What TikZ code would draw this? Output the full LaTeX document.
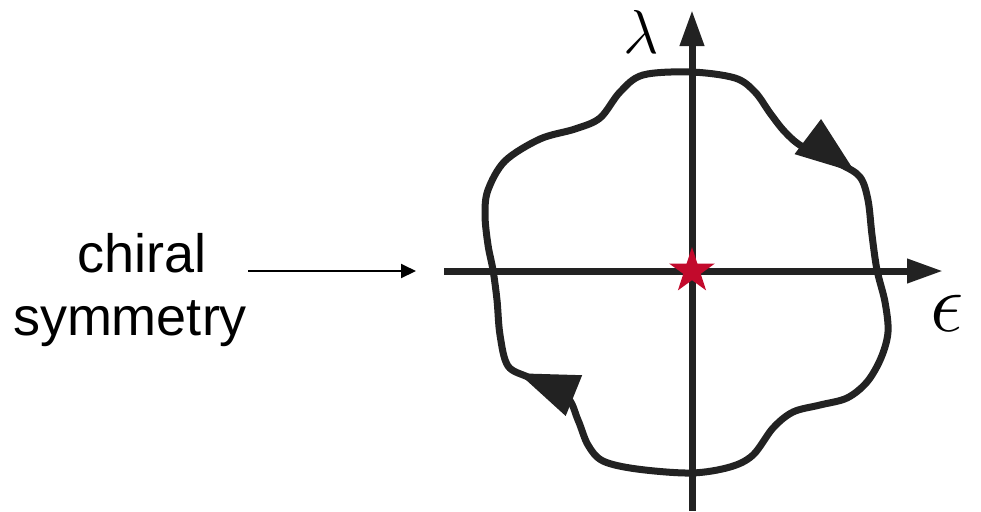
\RequirePackage{fix-cm}
\documentclass[tikz,border=0pt]{standalone}
\usepackage{fontspec}
\setmainfont{Liberation Sans}
\usepackage{xcolor}
\usepackage{tikz}
\usetikzlibrary{positioning, arrows.meta, decorations.markings, shapes.geometric}
\definecolor{lineDark}{HTML}{222222}
\definecolor{starRed}{HTML}{C20A2C}
\tikzset{looptip/.tip={Triangle[length=30pt, width=21pt]}}

\begin{document}
\begin{tikzpicture}[x=0.5pt, y=-0.5pt,
    axis/.style={line width=3.5pt, color=lineDark, -{Triangle[length=18pt, width=11.5pt]}},
    loopline/.style={line width=3.5pt, color=lineDark, line join=round},
    label/.style={font=\fontsize{27}{32}\selectfont, anchor=base, inner sep=0pt}]
    \useasboundingbox (0,0) rectangle (981,511);
    % Axes
    \coordinate (origin) at (692,271);
    \coordinate (yStart) at (692,511);
    \coordinate (yEnd) at (692,10);
    \coordinate (xStart) at (444,271);
    \coordinate (xEnd) at (943,271);
    \draw[axis] (yStart) -- (yEnd);
    \draw[axis] (xStart) -- (xEnd);
    \node[font=\fontsize{31}{36}\selectfont, inner sep=0pt] (lam) at (641,32) {$\lambda$};
    \node[font=\fontsize{42}{48}\selectfont, inner sep=0pt] (eps) at (947,313) {$\epsilon$};
    % Closed loop with two arrowheads
    \draw[loopline, postaction={decorate}, decoration={markings,
        mark=at position 0.122 with {\arrow{looptip}},
        mark=at position 0.623 with {\arrow{looptip}}}]
      plot[smooth cycle, tension=0.55] coordinates {
        (691,72) (735,78) (755,92) (770,113) (785,132) (803,147) (840,164)
        (860,177) (868,200) (872,235) (877,270) (885,302) (888,332) (881,358)
        (867,382) (847,398) (820,405) (793,412) (773,428) (753,455) (730,467)
        (691,473) (637,469) (603,461) (588,445) (578,420) (566,396) (530,378)
        (508,366) (500,335) (497,300) (493,270) (488,245) (485,215) (488,190)
        (505,161) (540,139) (575,129) (600,118) (620,92) (643,75)};
    % Star at the origin
    \node[star, star points=5, star point ratio=2.618, fill=starRed,
      minimum size=24pt, inner sep=0pt] (crit) at (origin) {};
    % Label and its arrow
    \node[label] (chiral) at (142,272) {chiral};
    \node[label] (symm) at (130,335) {symmetry};
    \coordinate (pStart) at (248,271);
    \coordinate (pEnd) at (416,271);
    \draw[line width=1pt, -{Triangle[length=7.5pt, width=7pt]}] (pStart) -- (pEnd);
\end{tikzpicture}
\end{document}
